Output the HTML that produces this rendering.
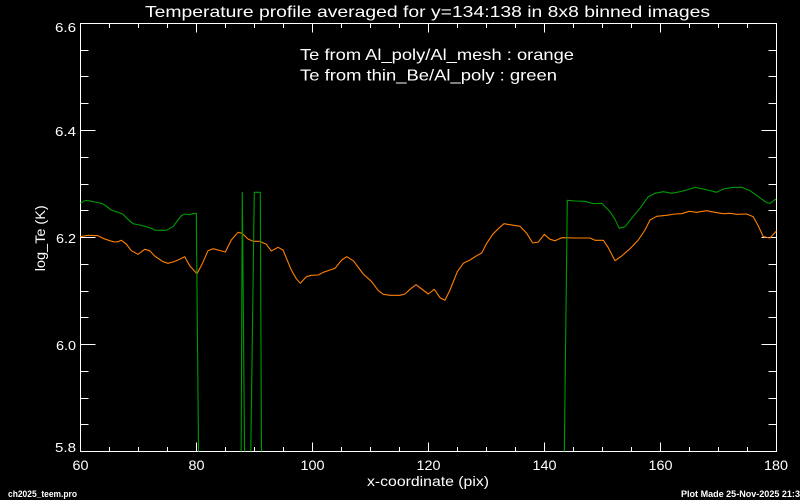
<!DOCTYPE html>
<html><head><meta charset="utf-8"><style>
html,body{margin:0;padding:0;background:#000;}
svg{display:block;}
text{font-family:"Liberation Sans",sans-serif;fill:#fff;}
</style></head><body>
<svg width="800" height="500" viewBox="0 0 800 500" xmlns="http://www.w3.org/2000/svg">
<rect width="800" height="500" fill="#000"/>
<defs><clipPath id="pc"><rect x="80.5" y="23.5" width="696" height="428"/></clipPath></defs>

<!-- axes box -->
<g stroke="#fff" stroke-width="1" fill="none" shape-rendering="crispEdges">
<rect x="80.5" y="23.5" width="696" height="428"/>
<!-- bottom major -->
<path d="M80.5 451.5V442.5M196.5 451.5V442.5M312.5 451.5V442.5M428.5 451.5V442.5M544.5 451.5V442.5M660.5 451.5V442.5M776.5 451.5V442.5"/>
<!-- bottom minor -->
<path d="M109.5 451.5V447M138.5 451.5V447M167.5 451.5V447M225.5 451.5V447M254.5 451.5V447M283.5 451.5V447M341.5 451.5V447M370.5 451.5V447M399.5 451.5V447M457.5 451.5V447M486.5 451.5V447M515.5 451.5V447M573.5 451.5V447M602.5 451.5V447M631.5 451.5V447M689.5 451.5V447M718.5 451.5V447M747.5 451.5V447"/>
<!-- top major -->
<path d="M80.5 23.5V32.5M196.5 23.5V32.5M312.5 23.5V32.5M428.5 23.5V32.5M544.5 23.5V32.5M660.5 23.5V32.5M776.5 23.5V32.5"/>
<!-- top minor -->
<path d="M109.5 23.5V28M138.5 23.5V28M167.5 23.5V28M225.5 23.5V28M254.5 23.5V28M283.5 23.5V28M341.5 23.5V28M370.5 23.5V28M399.5 23.5V28M457.5 23.5V28M486.5 23.5V28M515.5 23.5V28M573.5 23.5V28M602.5 23.5V28M631.5 23.5V28M689.5 23.5V28M718.5 23.5V28M747.5 23.5V28"/>
<!-- left major -->
<path d="M80.5 23.5H95.5M80.5 130.5H95.5M80.5 237.5H95.5M80.5 344.5H95.5M80.5 451.5H95.5"/>
<!-- left minor -->
<path d="M80.5 50.5H88.5M80.5 76.5H88.5M80.5 103.5H88.5M80.5 157.5H88.5M80.5 184.5H88.5M80.5 210.5H88.5M80.5 264.5H88.5M80.5 291.5H88.5M80.5 317.5H88.5M80.5 371.5H88.5M80.5 398.5H88.5M80.5 424.5H88.5"/>
<!-- right major -->
<path d="M776.5 23.5H761.5M776.5 130.5H761.5M776.5 237.5H761.5M776.5 344.5H761.5M776.5 451.5H761.5"/>
<!-- right minor -->
<path d="M776.5 50.5H768.5M776.5 76.5H768.5M776.5 103.5H768.5M776.5 157.5H768.5M776.5 184.5H768.5M776.5 210.5H768.5M776.5 264.5H768.5M776.5 291.5H768.5M776.5 317.5H768.5M776.5 371.5H768.5M776.5 398.5H768.5M776.5 424.5H768.5"/>
</g>

<!-- data -->
<g clip-path="url(#pc)" fill="none" stroke-width="1.1" stroke-linejoin="round">
<polyline stroke="#ff8000" points="80,236.7 88,235.3 98,235.7 103,238.3 109.7,240.7 114.7,242 118,241.7 121.3,240.3 126.3,244 131.3,250.7 138,254.3 144.7,249.3 149.7,250.7 154.7,256 163,261.7 168,263.3 173,262 178,260 184.7,256.7 189.7,265.7 197,273.7 202,264.3 208,250.7 213,248.7 218,250 225.3,252 231.3,240 238,232.3 242,233.3 248,239 253,241.3 259.7,241.3 266.3,244.3 271.3,251 278,247.3 283,250 291.3,270 296.3,278.7 300.3,283.3 306.3,276.7 311.3,275.3 318.3,275 323.3,272.3 330,270 335,268.3 341.7,260 346.7,256.7 353.3,260.7 363.3,274 371.7,281.7 378.3,290.7 383.3,294.3 390,295.3 400,295.3 405,294 410,289.3 416,284.7 421.7,289 428.3,294 434.3,289.3 440,297.7 445,300.3 450,290 457.3,271.7 463.3,263.3 470,260 476.7,255.7 481.7,253 486.7,243.3 492.7,234.3 498.3,228.7 504,223.7 510,224.7 520,226.3 526.7,233.3 532.7,243 538.3,242 544.3,234.3 550,239.3 555,240.7 561.7,237.7 576.7,238 590,238 595,240.3 603.3,240.3 608.3,247.7 615,260.7 621.7,256 630,248.7 638.3,240 645,230 650,220 656.7,216.3 666.7,215.3 675,214 681.7,213.7 689.3,211.3 696.7,212.3 706.7,210.7 715,212.3 723.3,213.7 730,213.3 736.7,214.3 746.7,214 753.3,216.7 758.3,226 763.3,236.7 770,238 776.7,230.7"/>
<polyline stroke="#009a00" points="80,203.3 84.7,200.7 88,200.7 94.7,202 101.3,203.3 104.7,205 111.3,210 118,212.3 123,214.3 128,219.3 133,223.7 139.7,225 146.3,226.7 151.3,228.3 155.3,230.3 166.3,230.3 173,226.7 178,220 181.3,215.7 184.7,214 189.7,214.7 193,213.7 196.3,213.3 198.8,480 241,480 242.3,192.3 244.8,480 250.4,480 254.3,192.3 260.3,192.3 261.6,480 564,480 567.3,200.3 575,201 585,201.3 593.3,203.7 601.7,203.3 610,211.7 615,219.3 619.3,228.3 625,226.7 631.7,218.3 640,208.3 648.3,196.7 655,193.3 663.3,191.7 671.7,193.3 680,191.7 686.7,190 695,187.3 703.3,189 716.7,192.3 723.3,189 733.3,187.3 741.7,187.3 750,190.7 758.3,196.7 766.7,202.7 770,203.3 776,199"/>
</g>

<!-- title -->
<text x="145" y="17" font-size="16" textLength="565" lengthAdjust="spacingAndGlyphs">Temperature profile averaged for y=134:138 in 8x8 binned images</text>

<!-- legend -->
<text x="300" y="60" font-size="16" textLength="274" lengthAdjust="spacingAndGlyphs">Te from Al_poly/Al_mesh : orange</text>
<text x="300" y="80.5" font-size="16" textLength="257" lengthAdjust="spacingAndGlyphs">Te from thin_Be/Al_poly : green</text>

<!-- y tick labels -->
<g font-size="13" text-anchor="end">
<text x="76" y="32" textLength="21" lengthAdjust="spacingAndGlyphs">6.6</text>
<text x="76" y="136" textLength="21" lengthAdjust="spacingAndGlyphs">6.4</text>
<text x="76" y="243" textLength="20" lengthAdjust="spacingAndGlyphs">6.2</text>
<text x="76" y="350" textLength="20" lengthAdjust="spacingAndGlyphs">6.0</text>
<text x="76" y="452" textLength="21" lengthAdjust="spacingAndGlyphs">5.8</text>
</g>

<!-- x tick labels -->
<g font-size="14" text-anchor="middle">
<text x="80.5" y="470" textLength="16" lengthAdjust="spacingAndGlyphs">60</text>
<text x="196.5" y="470" textLength="16" lengthAdjust="spacingAndGlyphs">80</text>
<text x="312.5" y="470" textLength="24" lengthAdjust="spacingAndGlyphs">100</text>
<text x="428.5" y="470" textLength="24" lengthAdjust="spacingAndGlyphs">120</text>
<text x="544.5" y="470" textLength="24" lengthAdjust="spacingAndGlyphs">140</text>
<text x="660.5" y="470" textLength="24" lengthAdjust="spacingAndGlyphs">160</text>
<text x="776" y="470" textLength="24" lengthAdjust="spacingAndGlyphs">180</text>
</g>

<!-- axis titles -->
<text x="428" y="486" font-size="14" text-anchor="middle" textLength="122" lengthAdjust="spacingAndGlyphs">x-coordinate (pix)</text>
<text transform="translate(45,238.3) rotate(-90)" font-size="14" text-anchor="middle" textLength="66" lengthAdjust="spacingAndGlyphs">log_Te (K)</text>

<!-- footers -->
<text x="8" y="497" font-size="9" font-weight="bold" textLength="69" lengthAdjust="spacingAndGlyphs">ch2025_teem.pro</text>
<text x="681" y="497" font-size="9" font-weight="bold" textLength="124" lengthAdjust="spacingAndGlyphs">Plot Made 25-Nov-2025 21:34</text>
</svg>
</body></html>
